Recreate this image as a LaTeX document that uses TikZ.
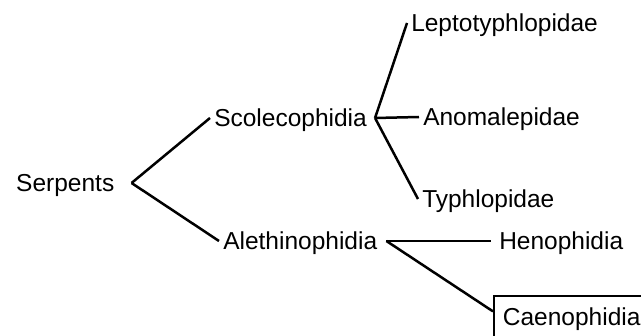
\documentclass[tikz,border=0pt]{standalone}
\usepackage{fontspec}
\setmainfont{Liberation Sans}

\begin{document}
\begin{tikzpicture}[x=1pt,y=-1pt,line width=2.5pt,
  taxon/.style={anchor=west,inner xsep=3pt,inner ysep=0pt,text height=17.7pt,
    text depth=0pt,font=\fontsize{24.5}{30}\selectfont},
  boxed/.style={taxon,anchor=base west,draw,line width=1.8pt,inner xsep=9pt,
    inner ysep=12pt,text depth=6pt}]

  \useasboundingbox (0,0) rectangle (641,336);
  \clip (0,0) rectangle (641,336);

  \node[taxon] (serp) at (12,183) {Serpents};
  \node[taxon] (scol) at (210,118) {Scolecophidia};
  \node[taxon] (aleth) at (219,241) {Alethinophidia};
  \node[taxon] (lepto) at (407,23) {Leptotyphlopidae};
  \node[taxon] (anom) at (419,117) {Anomalepidae};
  \node[taxon] (typh) at (418,199) {Typhlopidae};
  \node[taxon] (heno) at (495,241) {Henophidia};
  \node[boxed] (caeno) at (493,326) {Caenophidia};

  \path
    ([xshift=13pt]serp.east) edge (scol.west)
    ([xshift=13pt]serp.east) edge (aleth.west)
    ([xshift=4pt]scol.east) edge (lepto.west)
    ([xshift=4pt]scol.east) edge (anom.west)
    ([xshift=4pt]scol.east) edge (typh.west)
    ([xshift=5pt]aleth.east) edge ([xshift=-4pt]heno.west)
    ([xshift=5pt]aleth.east) edge ([yshift=-16pt]caeno.north west);

\end{tikzpicture}
\end{document}
